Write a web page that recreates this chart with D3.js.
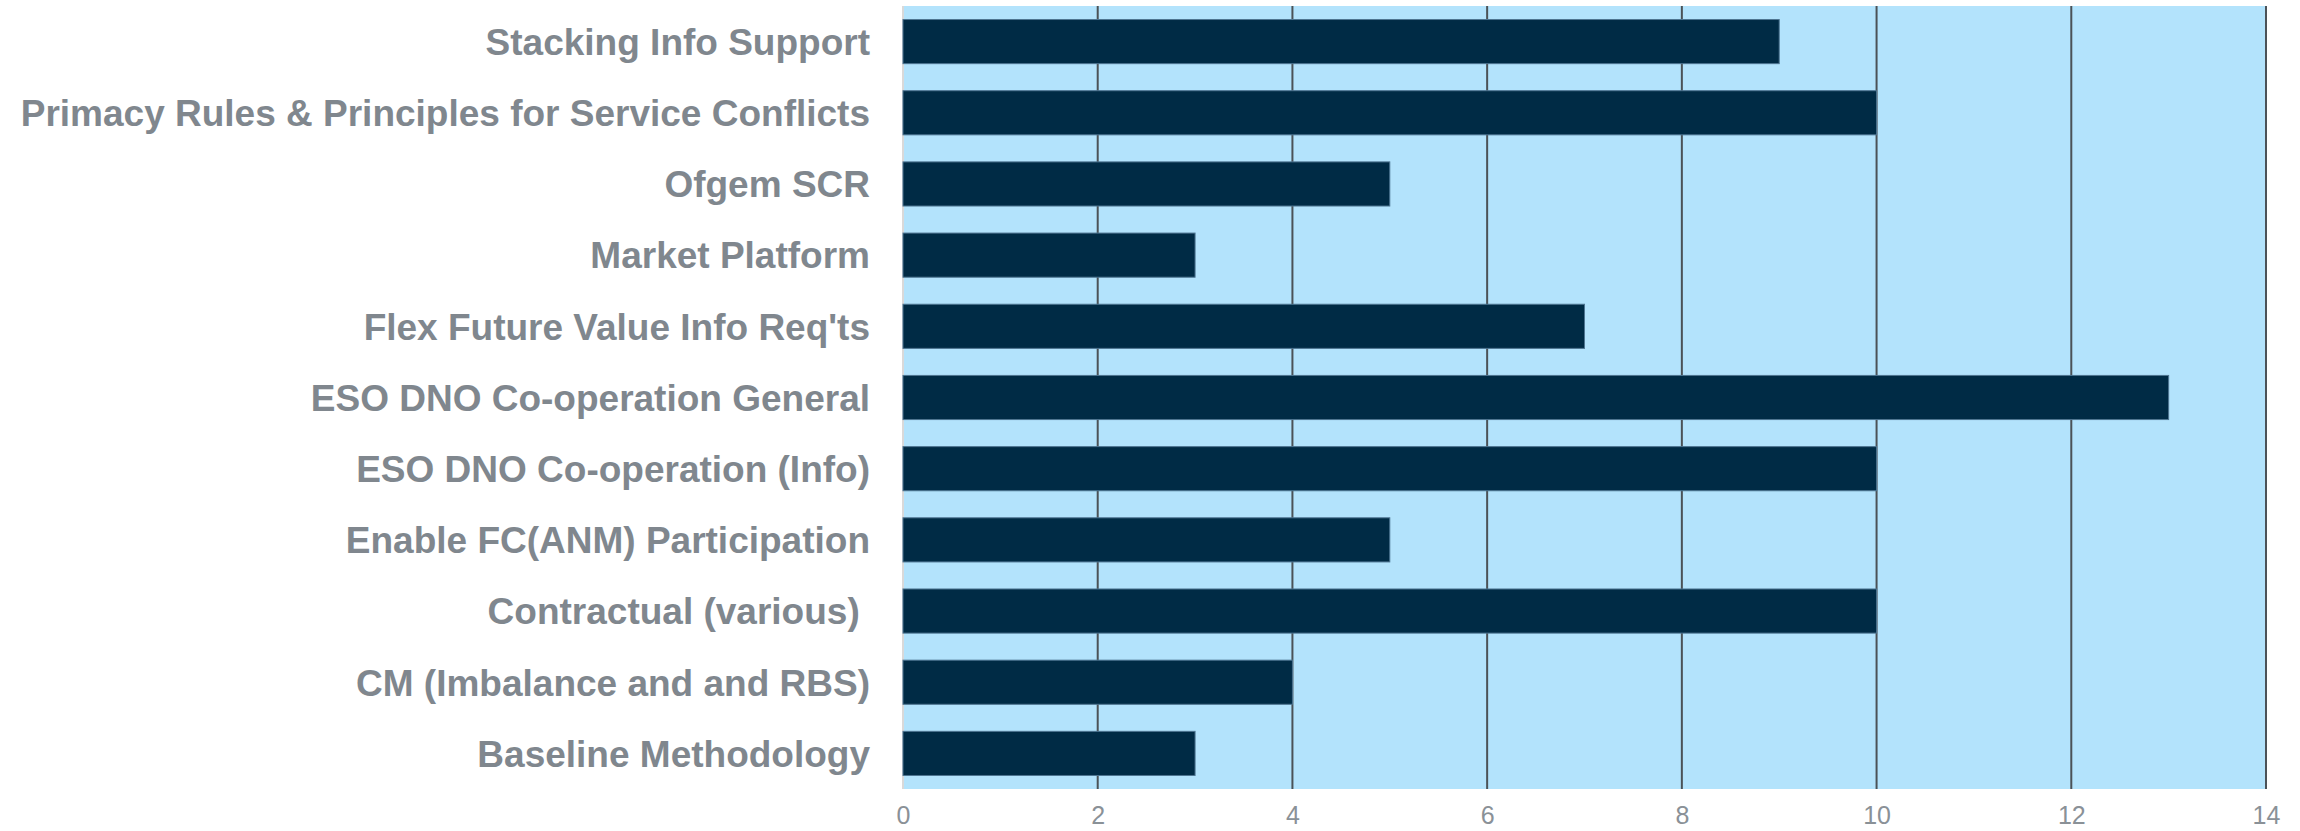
<!DOCTYPE html>
<html>
<head>
<meta charset="utf-8">
<script src="https://cdn.jsdelivr.net/npm/d3@7"></script>
<style>
  body{margin:0;background:#fff;}
  svg text{font-family:"Liberation Sans",Arial,sans-serif;}
</style>
</head>
<body>
<svg id="chart"></svg>
<script>
// categories, top to bottom
var categories=["Stacking Info Support","Primacy Rules & Principles for Service Conflicts","Ofgem SCR","Market Platform","Flex Future Value Info Req'ts","ESO DNO Co-operation General","ESO DNO Co-operation (Info)","Enable FC(ANM) Participation","Contractual (various) ","CM (Imbalance and and RBS)","Baseline Methodology"]
var counts=[9,10,5,3,7,13,10,5,10,4,3]
var xTicks=[0,2,4,6,8,10,12,14]

var screen={width:2300,height:831}
var margins={top:6,bottom:42,left:903,right:34}

var svg=d3.select("#chart")
    .attr("width",screen.width)
    .attr("height",screen.height)

var xScale=d3.scaleLinear()
    .domain([0,14])
    .range([margins.left,screen.width-margins.right])
var yScale=d3.scaleBand()
    .domain(categories)
    .range([margins.top,screen.height-margins.bottom])
    .paddingInner(0.38)
    .paddingOuter(0.19)

//plot background
svg.append("rect")
    .attr("x",xScale(0))
    .attr("y",margins.top)
    .attr("width",xScale(14)-xScale(0))
    .attr("height",screen.height-margins.bottom-margins.top)
    .attr("fill","#b3e3fc")

//gridlines
svg.append("g")
    .selectAll("line")
    .data(xTicks.slice(1))
    .enter()
    .append("line")
    .attr("x1",function(d){return xScale(d)})
    .attr("x2",function(d){return xScale(d)})
    .attr("y1",margins.top)
    .attr("y2",screen.height-margins.bottom)
    .attr("stroke","#4b5257")
    .attr("stroke-width",2)

//left axis line
svg.append("line")
    .attr("x1",xScale(0)).attr("x2",xScale(0))
    .attr("y1",margins.top).attr("y2",screen.height-margins.bottom)
    .attr("stroke","#d9d9d9")
    .attr("stroke-width",2)

//bars
svg.append("g")
    .selectAll("rect")
    .data(categories)
    .enter()
    .append("rect")
    .attr("x",xScale(0))
    .attr("y",function(d){return yScale(d)})
    .attr("width",function(d,i){return xScale(counts[i])-xScale(0)})
    .attr("height",yScale.bandwidth())
    .attr("fill","#002b45")
    .attr("stroke","#4e7591")
    .attr("stroke-width",1)

//category labels
svg.append("g")
    .selectAll("text")
    .data(categories)
    .enter()
    .append("text")
    .attr("x",870)
    .attr("y",function(d){return yScale(d)+yScale.bandwidth()/2})
    .attr("dy","0.36em")
    .attr("text-anchor","end")
    .attr("font-size",37)
    .attr("font-weight","bold")
    .attr("fill","#80878e")
    .style("white-space","pre")
    .text(function(d){return d})

//x axis
var xAxis=d3.axisBottom(xScale)
    .tickValues(xTicks)
    .tickSize(0)
    .tickPadding(17)
var gx=svg.append("g")
    .attr("transform","translate(0,"+(screen.height-margins.bottom)+")")
    .call(xAxis)
gx.select(".domain").remove()
gx.selectAll("text")
    .attr("font-size",25)
    .attr("fill","#8a9197")
    .style("font-family","'Liberation Sans',Arial,sans-serif")
</script>
</body>
</html>
